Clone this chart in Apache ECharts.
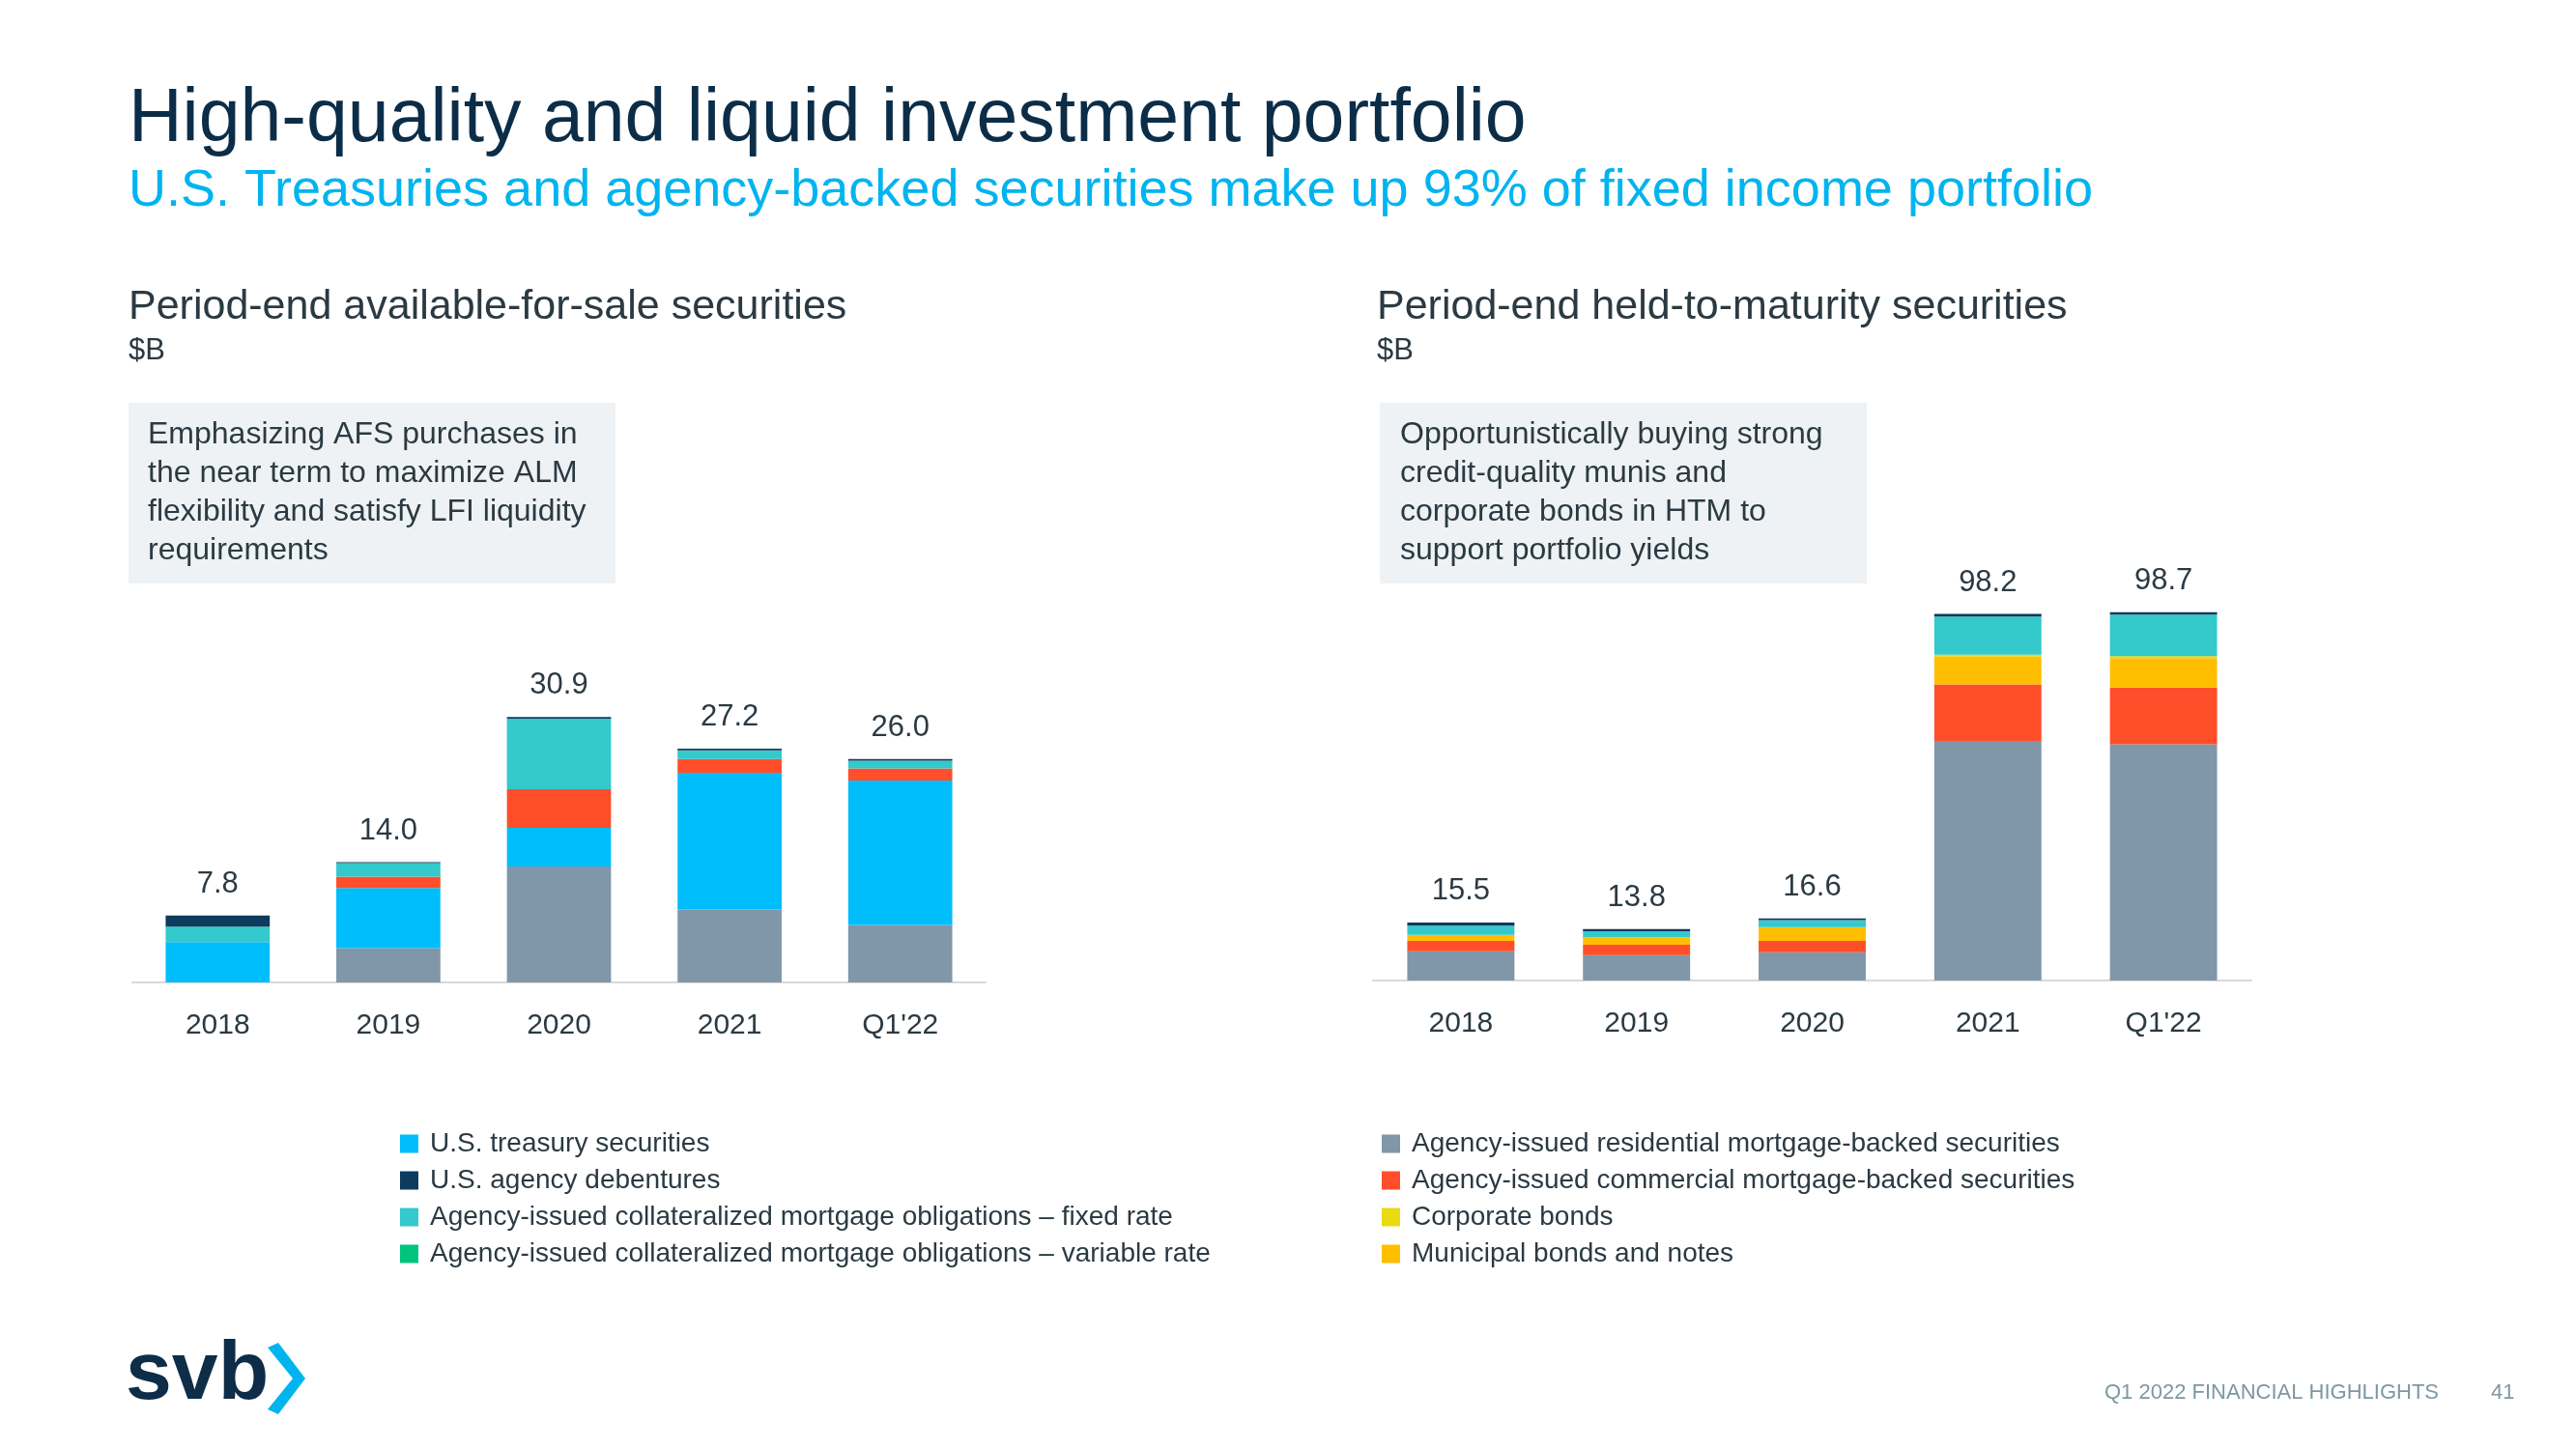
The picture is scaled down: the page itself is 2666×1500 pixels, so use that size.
<!DOCTYPE html>
<html>
<head>
<meta charset="utf-8">
<script src="https://cdn.jsdelivr.net/npm/echarts@6/dist/echarts.min.js"></script>
<style>
html,body{margin:0;padding:0;background:#fff;}
#chart{width:2666px;height:1500px;}
</style>
</head>
<body>
<div id="chart"></div>
<script>
// ---- Data ----
const categories = ['2018', '2019', '2020', '2021', "Q1'22"];

const afsTotals = [7.8, 14.0, 30.9, 27.2, 26.0];
const afsRMBS = [0, 4.0, 13.5, 8.5, 6.7];
const afsTreasury = [4.7, 7.0, 4.5, 15.9, 16.8];
const afsCMBS = [0, 1.3, 4.5, 1.6, 1.4];
const afsMuni = [0, 0, 0, 0, 0];
const afsCorporate = [0, 0, 0, 0, 0];
const afsCmoFixed = [1.8, 1.6, 8.2, 1.0, 0.9];
const afsCmoVariable = [0, 0, 0, 0, 0];
const afsDebentures = [1.3, 0.1, 0.2, 0.2, 0.2];

const htmTotals = [15.5, 13.8, 16.6, 98.2, 98.7];
const htmRMBS = [7.8, 6.8, 7.6, 64.2, 63.3];
const htmTreasury = [0, 0, 0, 0, 0];
const htmCMBS = [2.8, 2.8, 3.0, 15.1, 15.2];
const htmMuni = [1.6, 2.0, 3.7, 7.5, 7.9];
const htmCorporate = [0, 0, 0, 0.5, 0.5];
const htmCmoFixed = [2.5, 1.6, 1.9, 10.2, 11.1];
const htmCmoVariable = [0, 0, 0, 0, 0];
const htmDebentures = [0.8, 0.6, 0.4, 0.7, 0.7];

const seriesNames = {
  rmbs: 'Agency-issued residential mortgage-backed securities',
  treasury: 'U.S. treasury securities',
  cmbs: 'Agency-issued commercial mortgage-backed securities',
  muni: 'Municipal bonds and notes',
  corporate: 'Corporate bonds',
  cmoFixed: 'Agency-issued collateralized mortgage obligations – fixed rate',
  cmoVariable: 'Agency-issued collateralized mortgage obligations – variable rate',
  debentures: 'U.S. agency debentures'
};
const colors = {
  rmbs: '#8096a9', treasury: '#00bdfc', cmbs: '#fe4f2a', muni: '#ffbf00',
  corporate: '#e9da12', cmoFixed: '#34c9cb', cmoVariable: '#00c47c', debentures: '#0e3a5e'
};

const leftLines = ['Emphasizing AFS purchases in', 'the near term to maximize ALM', 'flexibility and satisfy LFI liquidity', 'requirements'];
const rightLines = ['Opportunistically buying strong', 'credit-quality munis and', 'corporate bonds in HTM to', 'support portfolio yields'];

// ---- Chart ----
const FONT = '"Liberation Sans", Arial, sans-serif';
const TEXT = '#2b3a42';
const chart = echarts.init(document.getElementById('chart'), null, {renderer: 'canvas'});

function buildSeries(axisIdx, stack, data, totals) {
  const order = ['rmbs', 'treasury', 'cmbs', 'muni', 'corporate', 'cmoFixed', 'cmoVariable', 'debentures'];
  return order.map((k) => {
    const s = {
      name: seriesNames[k],
      type: 'bar',
      stack: stack,
      xAxisIndex: axisIdx,
      yAxisIndex: axisIdx,
      barWidth: '61%',
      itemStyle: {color: colors[k]},
      data: data[k],
      emphasis: {disabled: true}
    };
    if (k === 'debentures') {
      s.label = {
        show: true, position: 'top', distance: 17,
        fontFamily: FONT, fontSize: 31, color: TEXT,
        formatter: p => totals[p.dataIndex].toFixed(1)
      };
    }
    return s;
  });
}

const afsData = {rmbs: afsRMBS, treasury: afsTreasury, cmbs: afsCMBS, muni: afsMuni, corporate: afsCorporate,
  cmoFixed: afsCmoFixed, cmoVariable: afsCmoVariable, debentures: afsDebentures};
const htmData = {rmbs: htmRMBS, treasury: htmTreasury, cmbs: htmCMBS, muni: htmMuni, corporate: htmCorporate,
  cmoFixed: htmCmoFixed, cmoVariable: htmCmoVariable, debentures: htmDebentures};

const xAxisCommon = {
  type: 'category', data: categories,
  axisLine: {lineStyle: {color: '#d9d9d9', width: 2}},
  axisTick: {show: false},
  axisLabel: {fontFamily: FONT, fontSize: 30, color: TEXT, margin: 30}
};
const yAxisCommon = {type: 'value', min: 0, show: false, splitLine: {show: false}};

const graphics = [];
// Titles
graphics.push({type: 'text', left: 133, top: 86, style: {text: 'High-quality and liquid investment portfolio', font: '77px ' + FONT, fill: '#0c2d48'}});
graphics.push({type: 'text', left: 133, top: 171, style: {text: 'U.S. Treasuries and agency-backed securities make up 93% of fixed income portfolio', font: '54px ' + FONT, fill: '#00b4f0'}});
// Section headings
[[133, 'Period-end available-for-sale securities'], [1425, 'Period-end held-to-maturity securities']].forEach(([x, t]) => {
  graphics.push({type: 'text', x: x, y: 318, style: {text: t, font: '43px ' + FONT, fill: TEXT, verticalAlign: 'middle'}});
  graphics.push({type: 'text', x: x, y: 363, style: {text: '$B', font: '31px ' + FONT, fill: TEXT, verticalAlign: 'middle'}});
});
// Boxes
[[133, 153, leftLines], [1428, 1449, rightLines]].forEach(([bx, tx, lines]) => {
  graphics.push({type: 'rect', shape: {x: bx, y: 417, width: 504, height: 187}, style: {fill: '#eef2f5'}, z: -1});
  lines.forEach((l, i) => {
    graphics.push({type: 'text', x: tx, y: 450 + i * 40, style: {text: l, font: '32px ' + FONT, fill: TEXT, verticalAlign: 'middle'}});
  });
});
// Logo
graphics.push({type: 'text', x: 130, y: 1424, style: {text: 'svb', font: 'bold 86px ' + FONT, fill: '#0d2d48', verticalAlign: 'middle'}});
graphics.push({type: 'polygon', shape: {points: [[277, 1395], [288, 1390], [316, 1427], [288, 1464], [277, 1459], [303, 1427]]}, style: {fill: '#00b5ef'}});
// Footer
graphics.push({type: 'text', x: 2178, y: 1442, style: {text: 'Q1 2022 FINANCIAL HIGHLIGHTS', font: '22px ' + FONT, fill: '#7d98a3', verticalAlign: 'middle'}});
graphics.push({type: 'text', x: 2578, y: 1442, style: {text: '41', font: '22px ' + FONT, fill: '#7d98a3', verticalAlign: 'middle'}});

const legendCommon = {
  orient: 'vertical', icon: 'rect', itemWidth: 19, itemHeight: 19, itemGap: 10,
  selectedMode: false,
  textStyle: {fontFamily: FONT, fontSize: 28, color: TEXT, lineHeight: 28, padding: [0, 0, 0, 7]}
};

chart.setOption({
  animation: false,
  backgroundColor: '#ffffff',
  grid: [
    {left: 137, width: 883, top: 599, height: 418},
    {left: 1421, width: 909, top: 590, height: 425}
  ],
  xAxis: [Object.assign({gridIndex: 0}, xAxisCommon), Object.assign({gridIndex: 1}, xAxisCommon)],
  yAxis: [Object.assign({gridIndex: 0, max: 47}, yAxisCommon), Object.assign({gridIndex: 1, max: 110}, yAxisCommon)],
  legend: [
    Object.assign({left: 409, top: 1165, data: [seriesNames.treasury, seriesNames.debentures, seriesNames.cmoFixed, seriesNames.cmoVariable]}, legendCommon),
    Object.assign({left: 1425, top: 1165, data: [seriesNames.rmbs, seriesNames.cmbs, seriesNames.corporate, seriesNames.muni]}, legendCommon)
  ],
  graphic: graphics,
  series: buildSeries(0, 'afs', afsData, afsTotals).concat(buildSeries(1, 'htm', htmData, htmTotals))
});
</script>
</body>
</html>
